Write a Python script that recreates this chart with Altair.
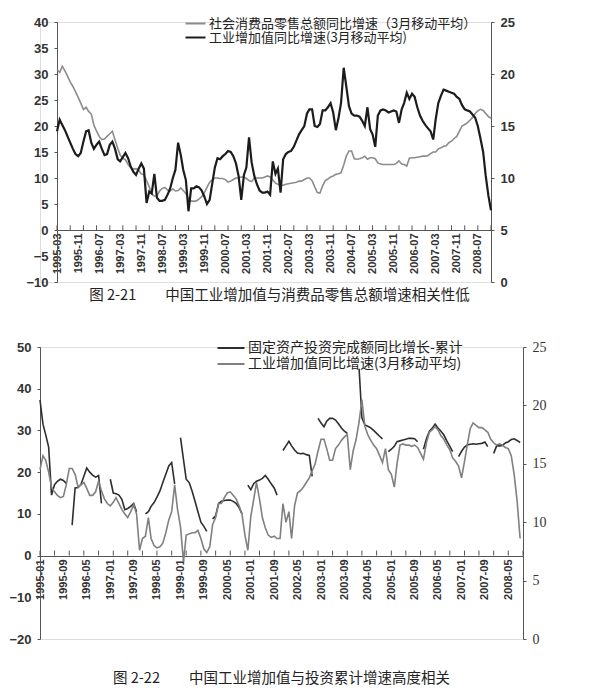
import altair as alt
import pandas as pd

# ---------------- Chart 1 data (monthly, from 1995-03) ----------------
c1_start = "1995-03-01"
c1_retail_name = "社会消费品零售总额同比增速（3月移动平均）"
c1_iva_name = "工业增加值同比增速(3月移动平均)"
c1_retail = [
    30.9, 30.3, 31.5, 30.6, 29.6, 28.5, 27.6, 26.6, 25.5, 24.4,
    23.2, 23.6, 22.8, 22.3, 20.2, 19.0, 18.0, 17.4, 17.5, 18.0,
    18.5, 19.0, 17.3, 15.7, 14.4, 13.8, 13.5, 12.6, 12.0, 11.7,
    11.8, 11.5, 10.8, 10.6, 9.5, 8.3, 7.0, 6.5, 6.6, 7.5,
    8.0, 8.2, 7.7, 7.5, 7.9, 7.5, 7.6, 8.1, 7.6, 7.0,
    6.0, 5.6, 5.5, 5.6, 6.0, 6.4, 7.2, 8.2, 9.2, 9.7,
    10.0, 10.0, 9.9, 9.9, 9.7, 9.2, 9.4, 9.7, 10.0, 10.0,
    10.2, 10.2, 9.9, 9.5, 9.3, 10.0, 10.0, 10.0, 10.0, 10.2,
    10.4, 10.2, 9.6, 9.0, 8.8, 8.6, 8.6, 8.8, 8.9, 9.0,
    9.1, 9.2, 9.4, 9.4, 9.7, 10.0, 10.0, 9.5, 8.3, 7.2,
    7.1, 8.5, 9.5, 9.8, 10.2, 10.4, 10.7, 10.8, 11.0, 12.5, 14.2,
    15.2, 15.2, 13.7, 13.6, 13.7, 13.9, 14.2, 13.6, 13.9, 13.9,
    13.7, 12.9, 12.7, 12.6, 12.6, 12.6, 12.6, 12.6, 12.8, 13.3,
    12.7, 12.6, 12.3, 13.8, 13.9, 13.9, 14.0, 14.1, 14.2, 14.2,
    14.3, 14.7, 15.0, 15.0, 15.6, 15.8, 16.1, 16.2, 16.8, 17.1,
    17.6, 18.0, 19.0, 20.0, 20.3, 20.6, 21.1, 21.6, 22.4, 22.9,
    23.2, 23.0, 22.4, 21.8, 21.5,
]
c1_iva = [
    14.5, 15.6, 15.1, 14.6, 14.0, 13.4, 12.8, 12.3, 12.1, 12.4,
    13.5, 14.5, 14.6, 13.4, 12.8, 13.2, 13.5, 12.8, 12.2, 12.3,
    13.2, 13.5, 12.8, 11.8, 11.6, 12.0, 12.4, 11.9, 11.1, 10.6,
    10.3, 10.9, 11.4, 10.9, 7.6, 8.7, 8.5, 10.4, 8.1, 7.8,
    7.8, 7.9, 8.4, 9.0, 10.0, 10.8, 13.4, 12.2, 10.8, 9.8,
    6.8, 9.0, 9.0, 9.2, 9.1, 8.8, 8.2, 7.5, 7.9, 9.5,
    11.0, 11.9, 11.8, 12.1, 12.3, 12.6, 12.5, 12.1, 11.4, 10.2,
    7.9, 10.3, 11.0, 13.9, 11.5, 10.2, 9.4, 8.8, 8.6, 8.6,
    8.7, 8.4, 11.6, 10.4, 10.9, 8.6, 11.8, 12.3, 12.5, 12.6,
    13.0, 13.6, 14.2, 14.6, 15.0, 16.2, 16.6, 16.6, 15.0, 14.9,
    15.2, 16.5, 16.5, 16.8, 17.2, 16.3, 14.6, 15.8, 17.2, 20.6, 18.8,
    16.9, 16.2, 16.0, 16.0, 15.9, 15.5, 15.0, 16.8, 14.7, 14.2,
    13.0, 16.0, 16.5, 16.6, 16.5, 16.3, 16.4, 16.5, 16.4, 15.3,
    16.6, 17.2, 18.2, 17.6, 18.1, 17.8, 16.8, 16.0, 15.5, 15.1,
    14.8, 14.5, 13.7, 15.6, 17.2, 17.9, 18.5, 18.4, 18.3, 18.2,
    18.1, 17.8, 17.6, 17.0, 16.6, 16.5, 16.4, 16.1, 15.8, 15.0,
    13.8, 12.5, 10.2, 8.3, 6.9,
]
c1_labels = ["1995-03", "1995-11", "1996-07", "1997-03", "1997-11", "1998-07",
             "1999-03", "1999-11", "2000-07", "2001-03", "2001-11", "2002-07",
             "2003-03", "2003-11", "2004-07", "2005-03", "2005-11", "2006-07",
             "2007-03", "2007-11", "2008-07"]
c1_left_ticks = [-10, -5, 0, 5, 10, 15, 20, 25, 30, 35, 40]
c1_right_ticks = [0, 5, 10, 15, 20, 25]
c1_caption = "图 2-21\u3000\u3000中国工业增加值与消费品零售总额增速相关性低"

# ---------------- Chart 2 data (monthly, from 1995-01) ----------------
c2_start = "1995-01-01"
c2_fai_name = "固定资产投资完成额同比增长-累计"
c2_iva_name = "工业增加值同比增速(3月移动平均)"
N = None
c2_fai = [
    37.3, 31.5, 29.0, 26.0, 14.5, 17.0, 17.8, 18.3, 18.0, 17.3,
    N,
    7.3, 16.2, 16.3, 17.0, 19.0, 21.0, 20.0, 19.3, 18.8, 19.2, 12.5,
    N, N,
    18.3, 15.0, 14.8, 14.5, 13.5, 11.0, 11.3, 11.8, 12.5, 10.5,
    N, N,
    10.0, 10.5, 11.8, 12.7, 14.0, 15.5, 17.5, 19.5, 21.5, 22.3, 17.2,
    N,
    28.3, 23.0, 18.3, 17.5, 15.5, 13.0, 10.5, 8.0, 7.0, 5.8,
    N,
    8.8, 9.5, 12.5, 13.0, 13.2, 13.3, 13.3, 13.0, 12.5, 11.5, 10.0,
    N,
    16.9, 15.8, 17.3, 17.8, 18.1, 18.5, 19.2, 18.3, 17.2, 16.2, 14.5,
    N,
    25.2, 26.3, 27.4, 26.3, 25.3, 24.6, 24.4, 24.5, 24.2, 24.0, 19.0,
    N,
    32.9, 31.8, 30.9, 32.2, 32.9, 32.9, 32.5, 31.6, 30.6, 29.8, 29.3,
    N, N, N,
    44.8, 33.0, 31.3, 31.0, 30.6, 30.0, 29.3, 28.6, 28.0,
    N,
    24.9, 25.5, 26.2, 27.3, 27.5, 27.7, 27.9, 28.1, 28.1, 28.0, 27.3,
    N,
    25.5, 28.0, 29.8, 30.5, 31.5, 30.6, 29.8, 28.9, 27.5, 26.2, 24.9,
    N,
    23.7, 25.0, 26.0, 26.5, 26.7, 26.8, 26.7, 26.8, 26.9, 27.2, 26.1,
    N,
    24.5, 26.3, 26.3, 26.4, 27.0, 27.3, 27.8, 28.0, 27.6, 27.1,
]
c2_iva = [
    14.5, 15.7, 15.3, 14.3, 13.0, 12.6, 12.3, 12.1, 12.2, 13.2,
    14.6, 14.6, 14.1, 13.0, 13.2, 13.4, 12.9, 12.3, 12.3, 12.6,
    13.5, 12.7, 12.0, 11.6, 11.4, 11.7, 12.1, 11.6, 11.1, 10.7,
    10.4, 10.9, 11.5, 10.7, 7.6, 8.6, 8.8, 10.4, 8.6, 8.0,
    7.8, 7.9, 8.2, 9.1, 10.2, 10.9, 13.2, 11.1, 9.6, 6.6,
    8.9, 9.0, 9.1, 9.1, 9.3, 8.6, 7.7, 7.4, 7.9, 9.8,
    10.4, 11.6, 11.6, 12.1, 12.5, 12.6, 12.3, 12.0, 11.4, 10.7,
    8.9, 7.6, 10.5, 12.0, 13.4, 12.0, 10.4, 9.5, 8.9, 8.7,
    8.8, 8.6, 8.6, 11.6, 10.0, 10.9, 8.6, 11.4, 12.5, 12.7,
    13.0, 13.4, 13.8, 14.4, 15.0, 16.1, 17.1, 17.1, 16.3, 15.3,
    15.3, 16.3, 16.6, 17.0, 17.3, 17.5, 14.5, 16.1, 17.1, 18.6,
    20.5, 18.2, 17.5, 17.0, 16.6, 16.3, 15.7, 15.1, 16.3, 14.5,
    14.1, 13.0, 15.0, 16.6, 16.7, 16.6, 16.6, 16.5, 16.6, 16.4,
    15.9, 15.4, 16.8, 17.7, 17.9, 18.2, 17.9, 17.4, 17.1, 16.6,
    16.2, 15.5, 15.2, 14.8, 13.8, 15.2, 16.6, 18.0, 18.5, 18.3,
    18.1, 18.1, 17.9, 17.7, 17.1, 16.8, 16.6, 16.7, 16.6, 16.4,
    16.3, 15.7, 14.1, 11.8, 8.6,
]
c2_labels = ["1995-01", "1995-09", "1996-05", "1997-01", "1997-09", "1998-05",
             "1999-01", "1999-09", "2000-05", "2001-01", "2001-09", "2002-05",
             "2003-01", "2003-09", "2004-05", "2005-01", "2005-09", "2006-05",
             "2007-01", "2007-09", "2008-05"]
c2_left_ticks = [-20, -10, 0, 10, 20, 30, 40, 50]
c2_right_ticks = [0, 5, 10, 15, 20, 25]
c2_caption = "图 2-22\u3000\u3000中国工业增加值与投资累计增速高度相关"


def dt(s):
    y, m = s.split("-")[:2]
    return alt.DateTime(year=int(y), month=int(m), date=1, utc=True)


def series_frame(start, values, name):
    dates = pd.date_range(start, periods=len(values), freq="MS")
    df = pd.DataFrame({"date": dates.strftime("%Y-%m-%d"), "value": values})
    df["series"] = name
    df["seg"] = df["value"].isna().cumsum()
    return df.dropna(subset=["value"]).reset_index(drop=True)


def tick_frame(start, n):
    dates = pd.date_range(start, periods=n, freq="5MS")
    return pd.DataFrame({"date": dates.strftime("%Y-%m-%d")})


CJK = "Noto Sans CJK SC"


def make_panel(df_a, df_b, names, colors, widths, x_dom, x_labels, x_offset,
               left_dom, left_ticks, right_dom, right_ticks, tick_len,
               w, h, inset, right_font, right_bold, legend_x, legend_y,
               legend_font, sym_size, label_off, row_pad, caption, cap_offset,
               cap_dx, ticks_df):
    x_scale = alt.Scale(domain=[dt(x_dom[0]), dt(x_dom[1])], range=[inset, w])
    x_enc = alt.X(
        "date:T",
        scale=x_scale,
        axis=alt.Axis(values=[dt(s) for s in x_labels],
                      labelExpr="utcFormat(datum.value, '%Y-%m')",
                      labelAngle=-90, labelAlign="right", labelBaseline="middle",
                      offset=x_offset, ticks=False, grid=False,
                      domainColor="#555", domainWidth=1,
                      labelFont="Liberation Sans", labelFontSize=11,
                      labelFontWeight="bold", labelColor="#333",
                      labelPadding=3, title=None, labelOverlap=False,
                      labelBound=False, labelFlush=False),
    )
    color = alt.Color(
        "series:N",
        scale=alt.Scale(domain=names, range=colors),
        legend=alt.Legend(orient="none", legendX=legend_x, legendY=legend_y,
                          title=None, symbolType="M-2,0H2", symbolSize=sym_size,
                          symbolStrokeWidth=2, labelFont=CJK,
                          labelFontSize=legend_font, labelColor="#222",
                          labelLimit=500, labelOffset=label_off,
                          rowPadding=row_pad, padding=0, direction="vertical"),
    )
    line_a = alt.Chart(df_a).mark_line(strokeWidth=widths[0]).encode(
        x=x_enc,
        y=alt.Y("value:Q",
                scale=alt.Scale(domain=left_dom, nice=False, zero=False),
                axis=alt.Axis(orient="left", values=left_ticks, grid=False,
                              offset=-inset,
                              domainColor="#555", tickColor="#555", tickSize=3,
                              labelFont="Liberation Sans", labelFontSize=13,
                              labelFontWeight="bold", labelColor="#333",
                              labelPadding=6, minExtent=30, maxExtent=30,
                              title=None)),
        color=color,
        detail="seg:N",
    )
    line_b = alt.Chart(df_b).mark_line(strokeWidth=widths[1]).encode(
        x=x_enc,
        y=alt.Y("value:Q",
                scale=alt.Scale(domain=right_dom, nice=False, zero=False),
                axis=alt.Axis(orient="right", values=right_ticks, grid=False,
                              domainColor="#555", tickColor="#555", tickSize=3,
                              labelFont=right_font, labelFontSize=14 if not right_bold else 13,
                              labelFontWeight="bold" if right_bold else "normal",
                              labelColor="#333", labelPadding=6, title=None)),
        color=color,
        detail="seg:N",
    )
    tick_rules = alt.Chart(ticks_df).mark_rule(color="#555", strokeWidth=1).encode(
        x=x_enc,
        y=alt.Y(datum=0, scale=alt.Scale(domain=left_dom, nice=False, zero=False),
                axis=None),
        y2=alt.Y2(datum=tick_len),
    )
    return alt.layer(line_a, line_b, tick_rules).resolve_scale(
        y="independent"
    ).properties(
        width=w, height=h,
        title=alt.TitleParams(text=caption, orient="bottom", anchor="middle",
                              font=CJK, fontSize=14.5, fontWeight="normal",
                              color="#222", offset=cap_offset, dx=cap_dx),
    )


df1a = series_frame(c1_start, c1_retail, c1_retail_name)
df1b = series_frame(c1_start, c1_iva, c1_iva_name)
df2a = series_frame(c2_start, c2_fai, c2_fai_name)
df2b = series_frame(c2_start, c2_iva, c2_iva_name)

# Panel 1 plot area starts 17px to the right of panel 2's
panel1 = make_panel(
    df1a, df1b, [c1_retail_name, c1_iva_name], ["#8c8c8c", "#1c1c1c"], [1.6, 2.2],
    ("1995-03", "2008-12"), c1_labels, -52,
    [-10, 40], c1_left_ticks, [0, 25], c1_right_ticks, 0.9,
    451, 260, 17, "Liberation Sans", True, 149, -5, 13, 100, 7, 0,
    c1_caption, 0, 14, tick_frame(c1_start, 34),
)
panel2 = make_panel(
    df2a, df2b, [c2_fai_name, c2_iva_name], ["#2e2e2e", "#808080"], [1.6, 1.6],
    ("1995-01", "2008-10"), c2_labels, -83,
    [-20, 50], c2_left_ticks, [0, 25], c2_right_ticks, 1.2,
    483, 292, 0, "Liberation Serif", False, 183, -7, 14, 182, 9, 1,
    c2_caption, 26, 0, tick_frame(c2_start, 34),
)

chart = alt.concat(panel1, panel2, columns=1, spacing=36).resolve_scale(
    x="independent", color="independent"
).properties(
    padding={"left": 0, "top": 7, "right": 5, "bottom": 5}
).configure_view(stroke=None).configure(background="white")

chart.save("out.html", embed_options={"renderer": "svg", "actions": False})
